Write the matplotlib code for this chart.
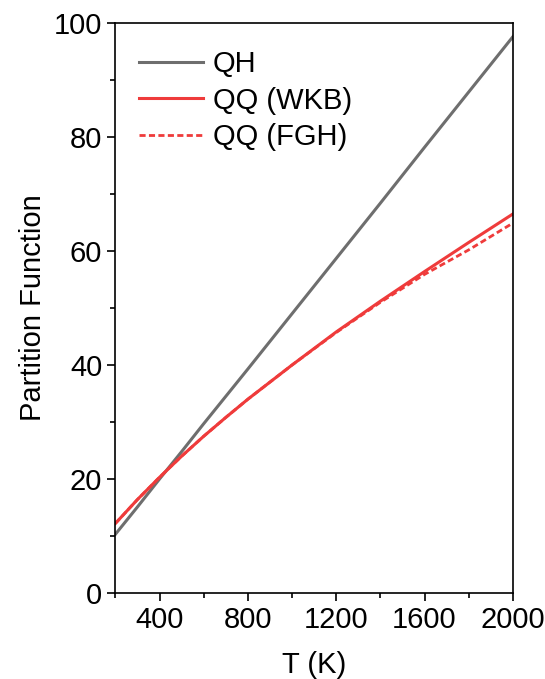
import matplotlib
matplotlib.use("Agg")
import matplotlib.pyplot as plt
from matplotlib.ticker import MultipleLocator

plt.rcParams.update({
    "font.family": ["Liberation Sans", "DejaVu Sans"],
    "font.size": 21,
})

# temperatures (K) and partition functions
T = [200, 300, 400, 500, 600, 700, 800, 1000, 1200, 1400, 1600, 1800, 2000]
q_qh = [10.3, 15.1, 20.0, 24.8, 29.7, 34.5, 39.3, 49.0, 58.7, 68.4, 78.2, 87.9, 97.6]
q_wkb = [12.2, 16.4, 20.3, 24.0, 27.5, 30.8, 34.0, 40.0, 45.8, 51.2, 56.4, 61.5, 66.5]
q_fgh = [12.2, 16.4, 20.3, 24.0, 27.5, 30.8, 34.0, 40.0, 45.7, 51.0, 55.9, 60.2, 64.9]

C_QH, C_QQ = "#6e6e6e", "#ef3b3b"

fig = plt.figure(figsize=(5.45, 6.79), dpi=100)
ax = fig.add_axes([0.2117, 0.1267, 0.7293, 0.8393])

ax.plot(T, q_qh, color=C_QH, lw=2.2, label="QH")
ax.plot(T, q_wkb, color=C_QQ, lw=2.2, label="QQ (WKB)")
ax.plot(T, q_fgh, color=C_QQ, lw=2.0, ls=(0, (2.2, 1.2)), label="QQ (FGH)")

ax.set_xlim(200, 2000)
ax.set_ylim(0, 100)
ax.set_xticks([400, 800, 1200, 1600, 2000])
ax.xaxis.set_minor_locator(MultipleLocator(200))
ax.yaxis.set_major_locator(MultipleLocator(20))
ax.yaxis.set_minor_locator(MultipleLocator(10))
ax.tick_params(which="major", direction="out", length=6, width=1.2, labelsize=21)
ax.tick_params(which="minor", direction="out", length=3.5, width=1.2)
for sp in ax.spines.values():
    sp.set_linewidth(1.2)

ax.set_xlabel("T (K)", fontsize=21, labelpad=12)
ax.set_ylabel("Partition Function", fontsize=21, labelpad=5)

ax.legend(loc="upper left", frameon=False, fontsize=21, handlelength=2.2,
          handletextpad=0.35, labelspacing=0.28, borderaxespad=0.4,
          bbox_to_anchor=(0.0, 0.993))

fig.savefig("out.png", dpi=100)
